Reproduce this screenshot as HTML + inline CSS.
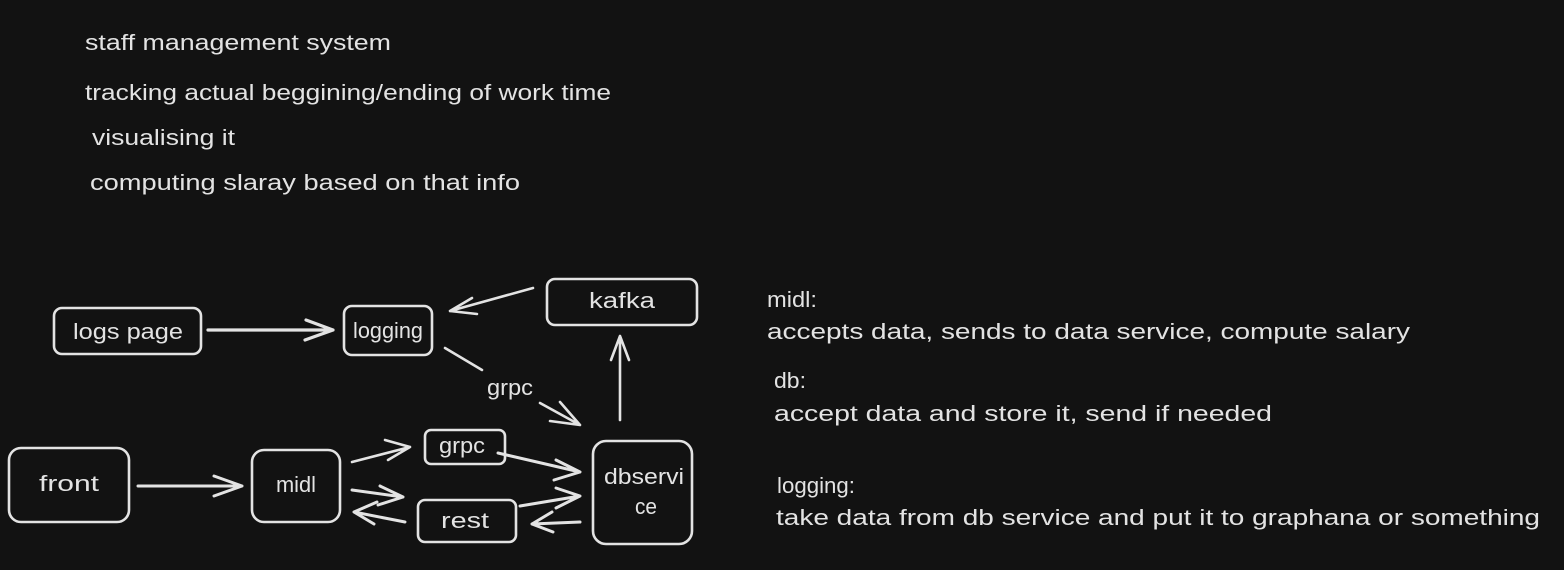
<!DOCTYPE html>
<html><head><meta charset="utf-8"><style>
html,body{margin:0;padding:0;background:#121212;}
svg{display:block}
text{font-family:"Liberation Sans",sans-serif;fill:#e3e3e3;font-size:22px;}
.s{stroke:#e3e3e3;stroke-width:2.6;fill:none;stroke-linecap:round;stroke-linejoin:round}
</style></head><body>
<svg width="1564" height="570" viewBox="0 0 1564 570">
<rect width="1564" height="570" fill="#121212"/>
<text x="85" y="50" textLength="306" lengthAdjust="spacingAndGlyphs">staff management system</text>
<text x="85" y="100" textLength="526" lengthAdjust="spacingAndGlyphs">tracking actual beggining/ending of work time</text>
<text x="92" y="145" textLength="143" lengthAdjust="spacingAndGlyphs">visualising it</text>
<text x="90" y="190" textLength="430" lengthAdjust="spacingAndGlyphs">computing slaray based on that info</text>

<text x="767" y="307" textLength="50" lengthAdjust="spacingAndGlyphs">midl:</text>
<text x="767" y="339" textLength="643" lengthAdjust="spacingAndGlyphs">accepts data, sends to data service, compute salary</text>
<text x="774" y="388" textLength="32" lengthAdjust="spacingAndGlyphs">db:</text>
<text x="774" y="421" textLength="498" lengthAdjust="spacingAndGlyphs">accept data and store it, send if needed</text>
<text x="777" y="493" textLength="78" lengthAdjust="spacingAndGlyphs">logging:</text>
<text x="776" y="525" textLength="764" lengthAdjust="spacingAndGlyphs">take data from db service and put it to graphana or something</text>

<rect class="s" x="54" y="308" width="147" height="46" rx="8"/>
<text x="128" y="339" text-anchor="middle" textLength="110" lengthAdjust="spacingAndGlyphs">logs page</text>
<rect class="s" x="344" y="306" width="88" height="49" rx="8"/>
<text x="388" y="338" text-anchor="middle" textLength="70" lengthAdjust="spacingAndGlyphs">logging</text>
<rect class="s" x="547" y="279" width="150" height="46" rx="8"/>
<text x="622" y="308" text-anchor="middle" textLength="66" lengthAdjust="spacingAndGlyphs">kafka</text>
<rect class="s" x="9" y="448" width="120" height="74" rx="12"/>
<text x="69" y="491" text-anchor="middle" textLength="60" lengthAdjust="spacingAndGlyphs">front</text>
<rect class="s" x="252" y="450" width="88" height="72" rx="12"/>
<text x="296" y="492" text-anchor="middle" textLength="40" lengthAdjust="spacingAndGlyphs">midl</text>
<rect class="s" x="425" y="430" width="80" height="34" rx="6"/>
<text x="462" y="453" text-anchor="middle" textLength="46" lengthAdjust="spacingAndGlyphs">grpc</text>
<rect class="s" x="418" y="500" width="98" height="42" rx="7"/>
<text x="465" y="528" text-anchor="middle" textLength="48" lengthAdjust="spacingAndGlyphs">rest</text>
<rect class="s" x="593" y="441" width="99" height="103" rx="13"/>
<text x="644" y="484" text-anchor="middle" textLength="80" lengthAdjust="spacingAndGlyphs">dbservi</text>
<text x="646" y="514" text-anchor="middle" textLength="22" lengthAdjust="spacingAndGlyphs">ce</text>
<text x="510" y="395" text-anchor="middle" textLength="46" lengthAdjust="spacingAndGlyphs">grpc</text>

<g class="s">
<path d="M208 330 L333 330 M306 320 L333 330 L305 340" stroke-width="3.2"/>
<path d="M533 288 L450 311 M472 298 L450 311 L477 314"/>
<path d="M445 348 L482 370"/>
<path d="M540 403 L580 425 M560 402 L580 425 L550 421"/>
<path d="M620 420 L620 336 M611 360 L620 336 L629 360"/>
<path d="M138 486 L242 486 M214 476 L242 486 L214 496" stroke-width="3"/>
<path d="M352 462 L410 447 M385 440 L410 447 L388 460"/>
<path d="M498 453 L580 472 M556 460 L580 472 L554 480" stroke-width="3"/>
<path d="M352 490 L403 497 M380 486 L403 497 L378 505" stroke-width="3"/>
<path d="M405 522 L354 512 M377 502 L354 512 L374 524" stroke-width="3"/>
<path d="M520 506 L580 496 M556 488 L580 496 L556 508" stroke-width="3"/>
<path d="M580 522 L532 524 M552 512 L532 524 L553 532" stroke-width="3"/>
</g>
</svg>
</body></html>
